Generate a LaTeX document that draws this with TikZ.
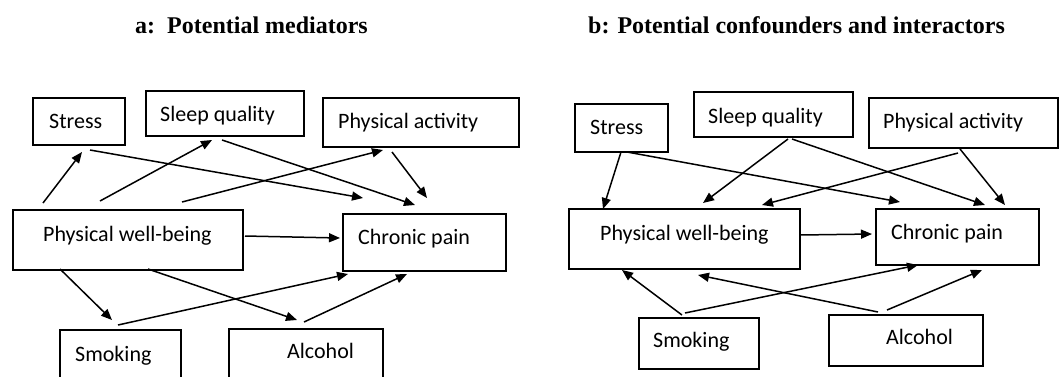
\documentclass[tikz,border=0pt]{standalone}
\usepackage{fontspec}
\setmainfont{Carlito}
\newfontfamily\ttlfont{Liberation Serif}
\usetikzlibrary{arrows.meta,calc}
\tikzset{
  box/.style={draw, line width=1.8pt, rectangle, inner sep=0pt, anchor=north west},
  lbl/.style={inner sep=0pt, anchor=base west, font=\fontsize{22}{26}\selectfont},
  ttl/.style={inner sep=0pt, anchor=base west, font=\ttlfont\bfseries\fontsize{24}{28}\selectfont},
  arr/.style={line width=1.5pt, -{Triangle[length=11pt,width=9pt]}}
}
\begin{document}
\begin{tikzpicture}[x=1pt,y=-1pt]
\useasboundingbox (0,0) rectangle (1059,376);
\clip (0,0) rectangle (1059,376);
% titles
\node[ttl] (ta) at (135,33) {a:\ \ Potential mediators};
\node[ttl] (tb) at (588,33) {b: Potential confounders and interactors};
% ---------- panel a ----------
\node[box, minimum width=92pt, minimum height=47pt] (ast) at (32,97) {};
\node[box, minimum width=158pt, minimum height=45pt] (asl) at (145,90) {};
\node[box, minimum width=196pt, minimum height=49pt] (apa) at (322,97) {};
\node[box, minimum width=230pt, minimum height=60pt] (apw) at (12,209) {};
\node[box, minimum width=163pt, minimum height=57pt] (acp) at (342,213) {};
\node[box, minimum width=121pt, minimum height=60pt] (asm) at (59,329) {};
\node[box, minimum width=154pt, minimum height=60pt] (aal) at (228,328) {};
\node[lbl] (astT) at ($(ast.north west)+(17,31)$) {Stress};
\node[lbl] (aslT) at ($(asl.north west)+(15,31)$) {Sleep quality};
\node[lbl] (apaT) at ($(apa.north west)+(16,31)$) {Physical activity};
\node[lbl] (apwT) at ($(apw.north west)+(31,32)$) {Physical well-being};
\node[lbl] (acpT) at ($(acp.north west)+(16,31)$) {Chronic pain};
\node[lbl] (asmT) at ($(asm.north west)+(16,32)$) {Smoking};
\node[lbl] (aalT) at ($(aal.north west)+(59,30)$) {Alcohol};
\draw[arr] ($(apw.north west)+(31,-6)$) -- ($(ast.north west)+(50,55)$);
\draw[arr] ($(apw.north west)+(88,-8)$) -- ($(asl.north west)+(67,50)$);
\draw[arr] ($(apw.north west)+(170,-7)$) -- ($(apa.north west)+(61,53)$);
\draw[arr] ($(ast.north west)+(58,53)$) -- ($(acp.north west)+(21,-15)$);
\draw[arr] ($(asl.north west)+(77,50)$) -- ($(acp.north west)+(73,-8)$);
\draw[arr] ($(apa.north west)+(70,55)$) -- ($(acp.north west)+(85,-15)$);
\draw[arr] ($(apw.north west)+(233,27)$) -- ($(acp.north west)+(-2,25)$);
\draw[arr] ($(apw.north west)+(48,60)$) -- ($(asm.north west)+(53,-9)$);
\draw[arr] ($(apw.north west)+(136,60)$) -- ($(aal.north west)+(69,-8)$);
\draw[arr] ($(asm.north west)+(59,-4)$) -- ($(acp.north west)+(6,61)$);
\draw[arr] ($(aal.north west)+(76,-6)$) -- ($(acp.north west)+(65,61)$);
% ---------- panel b ----------
\node[box, minimum width=93pt, minimum height=48pt] (bst) at (574,103) {};
\node[box, minimum width=159pt, minimum height=45pt] (bsl) at (693,91) {};
\node[box, minimum width=189pt, minimum height=50pt] (bpa) at (868,97) {};
\node[box, minimum width=231pt, minimum height=60pt] (bpw) at (568,208) {};
\node[box, minimum width=163pt, minimum height=56pt] (bcp) at (875,208) {};
\node[box, minimum width=120pt, minimum height=51pt] (bsm) at (638,317) {};
\node[box, minimum width=154pt, minimum height=51pt] (bal) at (828,314) {};
\node[lbl] (bstT) at ($(bst.north west)+(16,31)$) {Stress};
\node[lbl] (bslT) at ($(bsl.north west)+(15,32)$) {Sleep quality};
\node[lbl] (bpaT) at ($(bpa.north west)+(15,31)$) {Physical activity};
\node[lbl] (bpwT) at ($(bpw.north west)+(32,32)$) {Physical well-being};
\node[lbl] (bcpT) at ($(bcp.north west)+(16,31)$) {Chronic pain};
\node[lbl] (bsmT) at ($(bsm.north west)+(15,30)$) {Smoking};
\node[lbl] (balT) at ($(bal.north west)+(58,30)$) {Alcohol};
\draw[arr] ($(bst.north west)+(47,49)$) -- ($(bpw.north west)+(35,1)$);
\draw[arr] ($(bst.north west)+(53,49)$) -- ($(bcp.north west)+(25,-6)$);
\draw[arr] ($(bsl.north west)+(95,48)$) -- ($(bpw.north west)+(135,-5)$);
\draw[arr] ($(bsl.north west)+(99,48)$) -- ($(bcp.north west)+(110,-3)$);
\draw[arr] ($(bpa.north west)+(90,56)$) -- ($(bpw.north west)+(194,-3)$);
\draw[arr] ($(bpa.north west)+(92,52)$) -- ($(bcp.north west)+(130,-3)$);
\draw[arr] ($(bpw.north west)+(232,27)$) -- ($(bcp.north west)+(-3,26)$);
\draw[arr] ($(bsm.north west)+(44,-2)$) -- ($(bpw.north west)+(54,62)$);
\draw[arr] ($(bsm.north west)+(47,-4)$) -- ($(bcp.north west)+(43,57)$);
\draw[arr] ($(bal.north west)+(50,-2)$) -- ($(bpw.north west)+(130,67)$);
\draw[arr] ($(bal.north west)+(59,-4)$) -- ($(bcp.north west)+(107,62)$);
\end{tikzpicture}
\end{document}
